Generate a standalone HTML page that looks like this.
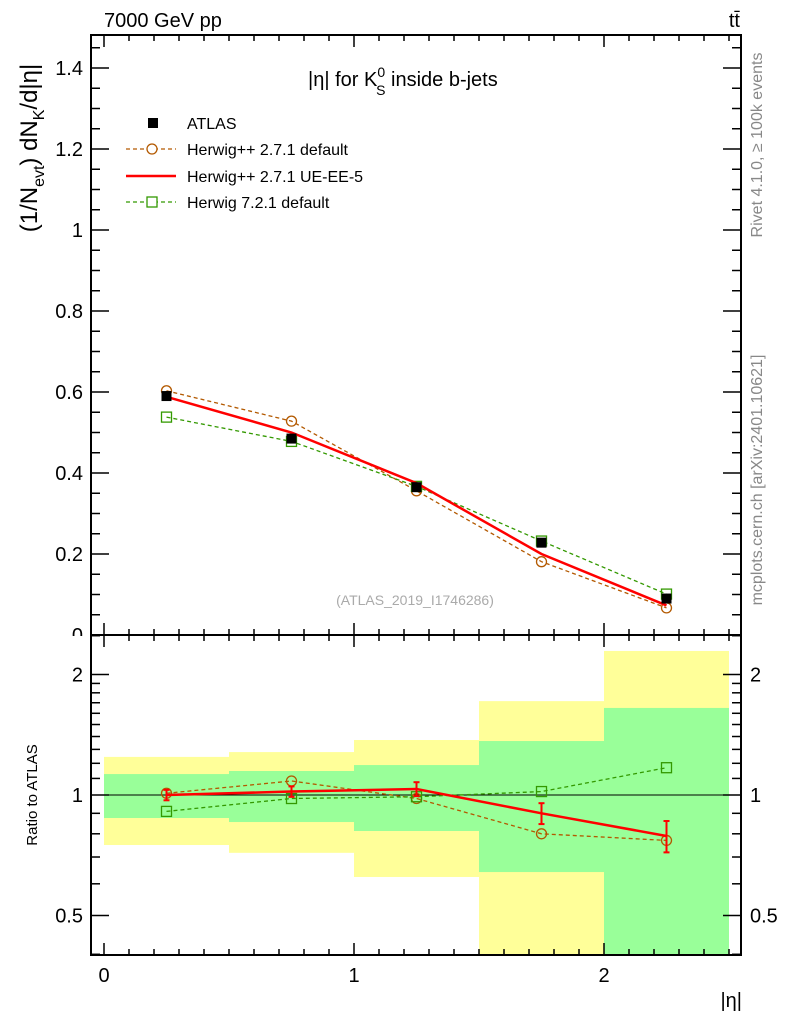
<!DOCTYPE html>
<html><head><meta charset="utf-8"><style>
body{margin:0;background:#fff;width:786px;height:1024px;overflow:hidden}
svg{font-family:"Liberation Sans",sans-serif}
</style></head><body>
<svg id="c" width="786" height="1024" xmlns="http://www.w3.org/2000/svg"></svg>
<script>
const binCenters=[0.25,0.75,1.25,1.75,2.25];
const binEdges=[0,0.5,1,1.5,2,2.5];
const atlas=[0.59,0.485,0.365,0.228,0.09];
const atlasErr=[0.012,0.01,0.008,0.006,0.004];
const hwDefault=[0.603,0.528,0.356,0.181,0.067];
const hwUE=[0.588,0.5,0.375,0.2,0.073];
const h7=[0.538,0.478,0.367,0.232,0.101];
const ratioDefault=[1.01,1.084,0.98,0.80,0.77];
const ratioUE=[1.0,1.02,1.035,0.90,0.79];
const ratioUEErr=[0.03,0.03,0.04,0.06,0.09];
const ratioH7=[0.91,0.98,0.99,1.02,1.17];
const bandYellowHi=[1.245,1.28,1.372,1.716,2.29];
const bandYellowLo=[0.75,0.717,0.624,0.3,0.3];
const bandGreenHi=[1.128,1.148,1.188,1.364,1.65];
const bandGreenLo=[0.876,0.856,0.813,0.642,0.3];
const yTicks=[0,0.2,0.4,0.6,0.8,1,1.2,1.4];
const yTickLabels=["0","0.2","0.4","0.6","0.8","1","1.2","1.4"];
const rTicks=[0.5,1,2];
const rTickLabels=["0.5","1","2"];
const xTicks=[0,1,2];
const xTickLabels=["0","1","2"];

const L=91,R=741,T=35,MB=635,RB=955;
const X=v=>104+250*v;
const Y=v=>635-405*v;
const RY=v=>795-120.5*Math.log2(v);
const svg=document.getElementById('c');
const NS="http://www.w3.org/2000/svg";
function el(tag,attrs,parent){const e=document.createElementNS(NS,tag);for(const k in attrs)e.setAttribute(k,attrs[k]);(parent||svg).appendChild(e);return e;}
function txt(s,attrs){const e=el('text',attrs);e.textContent=s;return e;}

yTicks.forEach((v,i)=>{const t=txt(yTickLabels[i],{x:83,y:Y(v)+7,'font-size':20,'text-anchor':'end'});});
el('rect',{x:0,y:MB+1,width:L,height:RB-MB-1,fill:'#fff'});

const clip=el('clipPath',{id:'rc'});el('rect',{x:L,y:MB,width:R-L,height:RB-MB},clip);
binCenters.forEach((c,i)=>{
 const x0=X(binEdges[i]),x1=X(binEdges[i+1]);
 const yb=el('rect',{x:x0,y:RY(bandYellowHi[i]),width:x1-x0,height:RY(bandYellowLo[i])-RY(bandYellowHi[i]),fill:'#ffff99','clip-path':'url(#rc)'});
 
 
 const gb=el('rect',{x:x0,y:RY(bandGreenHi[i]),width:x1-x0,height:RY(bandGreenLo[i])-RY(bandGreenHi[i]),fill:'#99ff99','clip-path':'url(#rc)'});
 
 
});
el('line',{x1:L,x2:R,y1:RY(1),y2:RY(1),stroke:'#000','stroke-width':1});

const f1=el('rect',{x:L,y:T,width:R-L,height:MB-T,fill:'none',stroke:'#000','stroke-width':2});

const f2=el('rect',{x:L,y:MB,width:R-L,height:RB-MB,fill:'none',stroke:'#000','stroke-width':2});


for(let v=0;v<=2.5001;v+=0.1){
 const maj=Math.abs(v-Math.round(v))<1e-6;const len=maj?12:6;const x=X(v);
 [[T,1],[MB,-1],[MB,1],[RB,-1]].forEach(([y,d])=>el('line',{x1:x,x2:x,y1:y,y2:y+d*len,stroke:'#000','stroke-width':1.5}));
}
xTicks.forEach((v,i)=>{const t=txt(xTickLabels[i],{x:X(v),y:982,'font-size':20,'text-anchor':'middle'});});
for(let v=0;v<=1.48;v+=0.05){
 const maj=Math.abs(v/0.2-Math.round(v/0.2))<1e-6;const len=maj?18:9;const y=Y(v);
 el('line',{x1:L,x2:L+len,y1:y,y2:y,stroke:'#000','stroke-width':1.5});
 el('line',{x1:R,x2:R-len,y1:y,y2:y,stroke:'#000','stroke-width':1.5});
}
[0.4,0.5,0.6,0.7,0.8,0.9,1,1.1,1.2,1.3,1.4,1.5,1.6,1.7,1.8,1.9,2,2.5].forEach(v=>{
 const maj=rTicks.includes(v);const len=maj?18:9;const y=RY(v);
 if(y<MB||y>RB)return;
 el('line',{x1:L,x2:L+len,y1:y,y2:y,stroke:'#000','stroke-width':1.5});
 el('line',{x1:R,x2:R-len,y1:y,y2:y,stroke:'#000','stroke-width':1.5});
});
rTicks.forEach((v,i)=>{
 const a=txt(rTickLabels[i],{x:83,y:RY(v)+7,'font-size':20,'text-anchor':'end'});
 const b=txt(rTickLabels[i],{x:750,y:RY(v)+7,'font-size':20});
});

function series(vals,yf,color,dash,marker,name,w){
 const pts=binCenters.map((c,i)=>X(c)+','+yf(vals[i])).join(' ');
 const p=el('polyline',{points:pts,fill:'none',stroke:color,'stroke-width':w||1.3,'stroke-dasharray':dash||'none'});
 
 binCenters.forEach((c,i)=>{
  let m;const x=X(c),y=yf(vals[i]);
  if(marker==='circle')m=el('circle',{cx:x,cy:y,r:5,fill:'none',stroke:color,'stroke-width':1.3});
  else if(marker==='square')m=el('rect',{x:x-5,y:y-5,width:10,height:10,fill:'none',stroke:color,'stroke-width':1.3});
  if(m){}
 });
}
series(hwDefault,Y,'#b35900','4,3','circle','herwigpp-default');
series(h7,Y,'#339900','4,3','square','herwig7-default');
series(hwUE,Y,'#ff0000',null,null,'herwigpp-ue-ee-5',2.5);
binCenters.forEach((c,i)=>{
 const x=X(c);
 el('line',{x1:x,x2:x,y1:Y(atlas[i]+atlasErr[i]),y2:Y(atlas[i]-atlasErr[i]),stroke:'#000','stroke-width':2});
 const m=el('rect',{x:x-5,y:Y(atlas[i])-5,width:10,height:10,fill:'#000'});
 
});
series(ratioDefault,RY,'#b35900','4,3','circle','ratio-herwigpp-default');
series(ratioH7,RY,'#339900','4,3','square','ratio-herwig7-default');
series(ratioUE,RY,'#ff0000',null,null,'ratio-herwigpp-ue-ee-5',2.5);
binCenters.forEach((c,i)=>{
 const x=X(c),y1=RY(ratioUE[i]*(1+ratioUEErr[i])),y2=RY(ratioUE[i]*(1-ratioUEErr[i]));
 el('line',{x1:x,x2:x,y1:y1,y2:y2,stroke:'#ff0000','stroke-width':2});
 el('line',{x1:x-3,x2:x+3,y1:y1,y2:y1,stroke:'#ff0000','stroke-width':2});
 el('line',{x1:x-3,x2:x+3,y1:y2,y2:y2,stroke:'#ff0000','stroke-width':2});
});
</script>
<svg width="786" height="1024" style="position:absolute;left:0;top:0" xmlns="http://www.w3.org/2000/svg">
<text x="104" y="27" font-size="20">7000 GeV pp</text>
<text x="740" y="27" font-size="20" text-anchor="end">tt̄</text>
<text x="308" y="86" font-size="20">|η| for K<tspan dy="-9" font-size="14">0</tspan><tspan dx="-9" dy="18" font-size="14">S</tspan><tspan dy="-9"> inside b-jets</tspan></text>
<g font-size="16">
<rect x="148" y="118" width="10" height="10" fill="#000"/>
<text x="187" y="129">ATLAS</text>
<line x1="126" x2="176" y1="149" y2="149" stroke="#b35900" stroke-dasharray="4,3" stroke-width="1.3"/><circle cx="152" cy="149" r="5" fill="#fff" stroke="#b35900" stroke-width="1.3"/>
<text x="187" y="155">Herwig++ 2.7.1 default</text>
<line x1="126" x2="176" y1="176" y2="176" stroke="#ff0000" stroke-width="2.5"/>
<text x="187" y="182">Herwig++ 2.7.1 UE-EE-5</text>
<line x1="126" x2="176" y1="202" y2="202" stroke="#339900" stroke-dasharray="4,3" stroke-width="1.3"/><rect x="147" y="197" width="10" height="10" fill="#fff" stroke="#339900" stroke-width="1.3"/>
<text x="187" y="208">Herwig 7.2.1 default</text>
</g>
<text x="415" y="605" font-size="14" fill="#aaa" text-anchor="middle">(ATLAS_2019_I1746286)</text>
<text transform="translate(37,148) rotate(-90)" font-size="24" text-anchor="middle">(1/N<tspan font-size="16" dy="7">evt</tspan><tspan dy="-7">) dN</tspan><tspan font-size="16" dy="7">K</tspan><tspan dy="-7">/d|η|</tspan></text>
<text transform="translate(37,795) rotate(-90)" font-size="15" text-anchor="middle">Ratio to ATLAS</text>
<text x="742" y="1007" font-size="20" text-anchor="end">|η|</text>
<text transform="translate(762,145) rotate(-90)" font-size="16" fill="#888" text-anchor="middle">Rivet 4.1.0, ≥ 100k events</text>
<text transform="translate(762,480) rotate(-90)" font-size="16" fill="#888" text-anchor="middle">mcplots.cern.ch [arXiv:2401.10621]</text>
</svg>
</body></html>
